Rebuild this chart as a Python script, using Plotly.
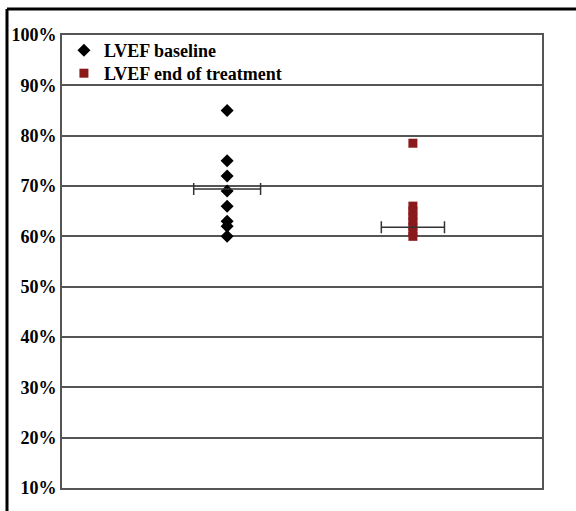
import plotly.graph_objects as go

# Data
groups = ["LVEF baseline", "LVEF end of treatment"]
group_pos = [1, 2]
baseline_vals = [85, 75, 72, 69, 66, 63, 62, 60]
end_vals = [78.5, 66, 65, 64, 63, 62, 61, 60]
means = [69.4, 61.8]
mean_halfwidth = [0.18, 0.17]
y_ticks = [10, 20, 30, 40, 50, 60, 70, 80, 90, 100]
y_ticklabels = [f"{v}%" for v in y_ticks]

W, H = 576, 511
L, R, T, B = 62, 34, 35, 23
PH = H - T - B
font_family = "Liberation Serif, Times New Roman, serif"

fig = go.Figure()
fig.add_trace(go.Scatter(
    x=[group_pos[0]] * len(baseline_vals), y=baseline_vals, mode="markers",
    name=groups[0], legend="legend",
    marker=dict(symbol="diamond", size=10, color="black"),
))
fig.add_trace(go.Scatter(
    x=[group_pos[1]] * len(end_vals), y=end_vals, mode="markers",
    name=groups[1], legend="legend2",
    marker=dict(symbol="square", size=9, color="#8B1A1A"),
))
fig.add_trace(go.Scatter(
    x=group_pos, y=means, mode="markers", showlegend=False,
    marker=dict(size=1, color="rgba(0,0,0,0)"),
    error_x=dict(type="data", array=mean_halfwidth, symmetric=True,
                 color="#333333", thickness=1.5, width=6),
))

leg_common = dict(xanchor="left", yanchor="top", bgcolor="rgba(0,0,0,0)",
                  itemwidth=30, font=dict(family=font_family, size=18, weight="bold"))

fig.update_layout(
    width=W, height=H,
    margin=dict(l=L, r=R, t=T, b=B),
    paper_bgcolor="white", plot_bgcolor="white",
    font=dict(family=font_family, color="black", size=18, weight="bold"),
    legend=dict(x=0.004, y=(H - B - 32) / PH, **leg_common),
    legend2=dict(x=0.004, y=(H - B - 55) / PH, **leg_common),
    xaxis=dict(range=[0.111, 2.695], showticklabels=False, showgrid=False,
               zeroline=False, showline=True, linecolor="#555555",
               linewidth=2, mirror=True, ticks=""),
    yaxis=dict(range=[10, 100], tickvals=y_ticks, ticktext=y_ticklabels,
               showgrid=True, gridcolor="#555555", gridwidth=2,
               zeroline=False, showline=True, linecolor="#555555",
               linewidth=2, mirror=True, ticks="",
               tickfont=dict(family=font_family, size=18, weight="bold")),
    shapes=[
        dict(type="line", xref="paper", yref="paper",
             x0=(7 - L) / (W - L - R), x1=1.2,
             y0=(H - B - 9) / PH, y1=(H - B - 9) / PH,
             line=dict(color="black", width=3)),
        dict(type="line", xref="paper", yref="paper",
             x0=(7 - L) / (W - L - R), x1=(7 - L) / (W - L - R),
             y0=-0.2, y1=(H - B - 9) / PH,
             line=dict(color="black", width=3)),
    ],
)

fig.write_html("out.html", config={"displayModeBar": False},
               post_script="document.body.style.margin='0';")
